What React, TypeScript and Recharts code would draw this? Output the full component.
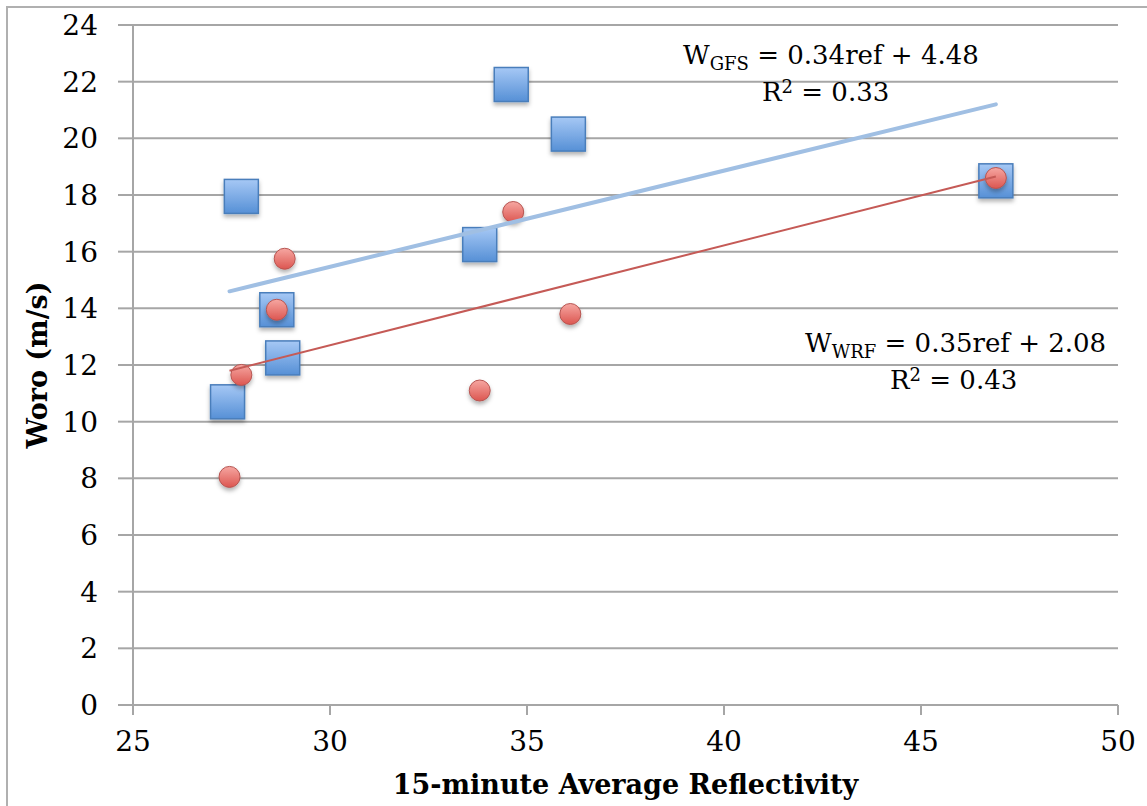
import React from 'react';
import {
  ScatterChart,
  Scatter,
  XAxis,
  YAxis,
  CartesianGrid,
} from 'recharts';

const gfsRef = [27.4, 27.75, 28.65, 28.8, 33.8, 34.6, 36.05, 46.9];
const gfsWoro = [10.7, 17.95, 13.95, 12.25, 16.25, 21.9, 20.15, 18.5];

const wrfRef = [27.45, 27.75, 28.65, 28.85, 33.8, 34.65, 36.1, 46.9];
const wrfWoro = [8.05, 11.65, 13.95, 15.75, 11.1, 17.4, 13.8, 18.6];

// trend line end points as drawn in the figure
const gfsFitRef = [27.45, 46.9];
const gfsFitWoro = [14.6, 21.2];
const wrfFitRef = [27.45, 46.9];
const wrfFitWoro = [11.8, 18.65];

const xTicks = [25, 30, 35, 40, 45, 50];
const yTicks = [0, 2, 4, 6, 8, 10, 12, 14, 16, 18, 20, 22, 24];

const toPoints = (xs: number[], ys: number[]) =>
  xs.map((x, i) => ({ x, y: ys[i] }));

const gfsData = toPoints(gfsRef, gfsWoro);
const wrfData = toPoints(wrfRef, wrfWoro);
const gfsFit = toPoints(gfsFitRef, gfsFitWoro);
const wrfFit = toPoints(wrfFitRef, wrfFitWoro);

const font = '"DejaVu Serif", serif';

const Square = (props: any) => {
  const { cx, cy } = props;
  if (cx == null || cy == null) return null;
  return (
    <rect
      x={cx - 17}
      y={cy - 17}
      width={34}
      height={34}
      fill="url(#blueGrad)"
      stroke="#4a7ebb"
      strokeWidth={1.5}
      filter="url(#shadow)"
    />
  );
};

const Dot = (props: any) => {
  const { cx, cy } = props;
  if (cx == null || cy == null) return null;
  return (
    <circle
      cx={cx}
      cy={cy}
      r={10.5}
      fill="url(#redGrad)"
      stroke="#b65450"
      strokeWidth={1}
      filter="url(#shadow)"
    />
  );
};

const NoShape = () => null;

const eqStyle: React.CSSProperties = {
  position: 'absolute',
  fontSize: 26,
  color: '#000',
  whiteSpace: 'nowrap',
  lineHeight: 1,
};

export default function App() {
  return (
    <div style={{ position: 'absolute', left: 0, top: 0, width: 1147, height: 806, fontFamily: font }}>
      <div
        style={{
          position: 'absolute',
          left: 6,
          top: 6,
          width: 1160,
          height: 820,
          borderLeft: '2px solid #b0b0b0',
          borderTop: '2px solid #b0b0b0',
        }}
      />
      <ScatterChart
        width={1147}
        height={806}
        margin={{ top: 25, right: 29, bottom: 0, left: 0 }}
        style={{ position: 'absolute', left: 0, top: 0 }}
      >
        <defs>
          <linearGradient id="blueGrad" x1="0" y1="0" x2="0" y2="1">
            <stop offset="0%" stopColor="#a6c8f5" />
            <stop offset="100%" stopColor="#5690d6" />
          </linearGradient>
          <linearGradient id="redGrad" x1="0" y1="0" x2="0" y2="1">
            <stop offset="0%" stopColor="#f6a7a2" />
            <stop offset="100%" stopColor="#dc5650" />
          </linearGradient>
          <filter id="shadow" x="-30%" y="-30%" width="160%" height="170%">
            <feDropShadow dx="0" dy="3" stdDeviation="2" floodColor="#000" floodOpacity="0.3" />
          </filter>
        </defs>
        <CartesianGrid vertical={false} stroke="#a6a6a6" strokeWidth={2} />
        <XAxis
          type="number"
          dataKey="x"
          domain={[25, 50]}
          ticks={xTicks}
          height={101}
          stroke="#a6a6a6"
          strokeWidth={2}
          tickSize={10}
          tickMargin={16}
          tick={{ fill: '#000', fontSize: 28, fontFamily: font }}
          label={{
            value: '15-minute Average Reflectivity',
            position: 'insideBottom',
            offset: 12,
            fill: '#000',
            fontSize: 27,
            fontWeight: 'bold',
            fontFamily: font,
          }}
        />
        <YAxis
          type="number"
          dataKey="y"
          domain={[0, 24]}
          ticks={yTicks}
          width={133}
          stroke="#a6a6a6"
          strokeWidth={2}
          tickSize={15}
          tickMargin={20}
          tick={{ fill: '#000', fontSize: 28, fontFamily: font }}
          label={{
            value: 'Woro (m/s)',
            angle: -90,
            position: 'insideLeft',
            offset: 37,
            style: { textAnchor: 'middle' },
            fill: '#000',
            fontSize: 27,
            fontWeight: 'bold',
            fontFamily: font,
          }}
        />
        <Scatter data={gfsData} shape={<Square />} isAnimationActive={false} />
        <Scatter data={wrfData} shape={<Dot />} isAnimationActive={false} />
        <Scatter
          data={gfsFit}
          shape={<NoShape />}
          line={{ stroke: '#a0bfe3', strokeWidth: 4, strokeLinecap: 'round' }}
          isAnimationActive={false}
        />
        <Scatter
          data={wrfFit}
          shape={<NoShape />}
          line={{ stroke: '#c55a56', strokeWidth: 2 }}
          isAnimationActive={false}
        />
      </ScatterChart>
      <div style={{ ...eqStyle, left: 683, top: 42 }}>
        W<sub style={{ fontSize: 18, verticalAlign: -6 }}>GFS</sub> = 0.34ref + 4.48
      </div>
      <div style={{ ...eqStyle, left: 762, top: 78 }}>
        R<sup style={{ fontSize: 18, verticalAlign: 8 }}>2</sup> = 0.33
      </div>
      <div style={{ ...eqStyle, left: 805, top: 330 }}>
        W<sub style={{ fontSize: 18, verticalAlign: -6 }}>WRF</sub> = 0.35ref + 2.08
      </div>
      <div style={{ ...eqStyle, left: 890, top: 366 }}>
        R<sup style={{ fontSize: 18, verticalAlign: 8 }}>2</sup> = 0.43
      </div>
    </div>
  );
}
